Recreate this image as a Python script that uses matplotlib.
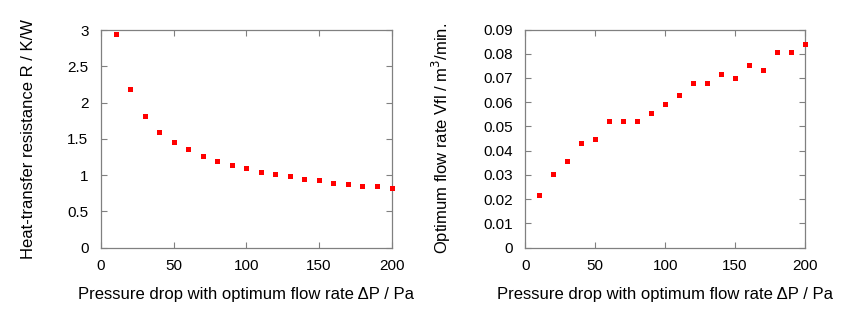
import matplotlib
matplotlib.use("Agg")
import matplotlib.pyplot as plt

pressure = [10, 20, 30, 40, 50, 60, 70, 80, 90, 100,
            110, 120, 130, 140, 150, 160, 170, 180, 190, 200]
resistance = [2.95, 2.19, 1.82, 1.60, 1.46, 1.355, 1.27, 1.20, 1.14, 1.10,
              1.045, 1.02, 0.985, 0.946, 0.932, 0.896, 0.877, 0.854, 0.850, 0.828]
flow = [0.0217, 0.0304, 0.0359, 0.0430, 0.0449, 0.0521, 0.0521, 0.0521, 0.0556, 0.0592,
        0.0628, 0.0680, 0.0680, 0.0717, 0.0699, 0.0753, 0.0735, 0.0806, 0.0806, 0.0842]
x_ticks = [0, 50, 100, 150, 200]
left_yticks = [0, 0.5, 1, 1.5, 2, 2.5, 3]
left_ylabels = ["0", "0.5", "1", "1.5", "2", "2.5", "3"]
right_yticks = [0, 0.01, 0.02, 0.03, 0.04, 0.05, 0.06, 0.07, 0.08, 0.09]
right_ylabels = ["0", "0.01", "0.02", "0.03", "0.04", "0.05", "0.06", "0.07", "0.08", "0.09"]

plt.rcParams['font.family'] = ['Liberation Sans', 'DejaVu Sans']
fs = 11
lfs = 12

fig = plt.figure(figsize=(8.6, 3.24), dpi=100)
ax1 = fig.add_axes([101/860, 1-247.7/324, 290.5/860, 217.7/324])
ax2 = fig.add_axes([525.3/860, 1-247.7/324, 279.7/860, 218.2/324])

def style(ax):
    for s in ax.spines.values():
        s.set_color('#808080')
        s.set_linewidth(0.9)
    ax.tick_params(direction='in', top=True, right=True, length=4, width=0.8,
                   color='#808080', labelsize=fs, labelcolor='black')
    ax.tick_params(axis='y', pad=9)
    ax.tick_params(axis='x', pad=8)
    ax.set_xlim(0, 200)
    ax.set_xticks(x_ticks)
    ax.set_xlabel("Pressure drop with optimum flow rate ΔP / Pa", fontsize=lfs, labelpad=10)

ax1.plot(pressure, resistance, 's', color='red', ms=3.6, mew=0, clip_on=False, zorder=3)
style(ax1)
ax1.set_ylim(0, 3)
ax1.set_yticks(left_yticks)
ax1.set_yticklabels(left_ylabels)
ax1.set_ylabel("Heat-transfer resistance R / K/W", fontsize=lfs)
ax1.yaxis.set_label_coords((36 - 101) / 290.5, 0.5)

ax2.plot(pressure, flow, 's', color='red', ms=3.6, mew=0, clip_on=False, zorder=3)
style(ax2)
ax2.set_ylim(0, 0.09)
ax2.set_yticks(right_yticks)
ax2.set_yticklabels(right_ylabels)
ax2.set_ylabel("Optimum flow rate Vfl / m$^3$/min.", fontsize=lfs)
ax2.yaxis.set_label_coords((453 - 525.3) / 279.7, 0.5)

fig.savefig("out.png", dpi=100)
